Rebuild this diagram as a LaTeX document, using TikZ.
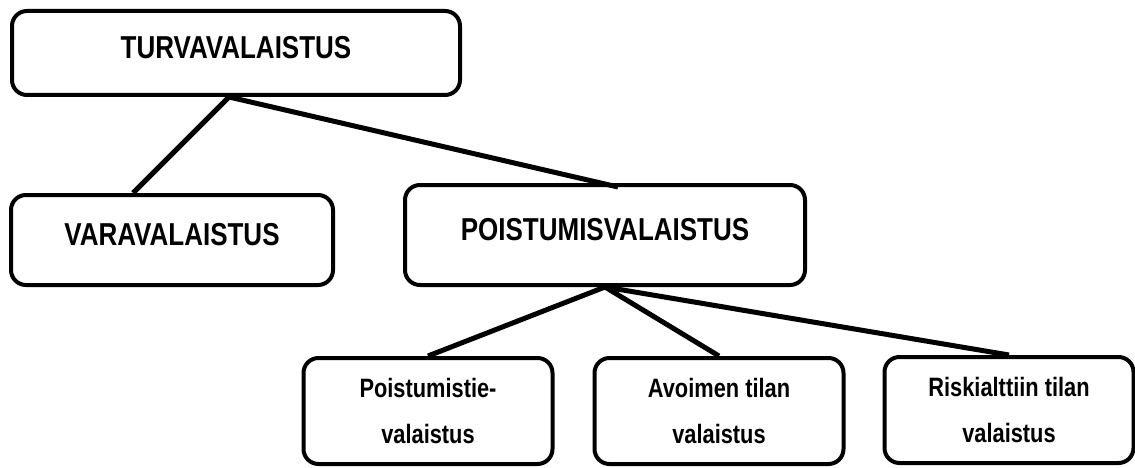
\documentclass[tikz,border=0pt]{standalone}
\usepackage{fontspec}
\setmainfont{Liberation Sans}[FakeStretch=0.82]

\begin{document}
\begin{tikzpicture}[x=1pt,y=-1pt,line width=5pt]
\tikzstyle{bigbox}=[draw, rectangle, rounded corners=15pt, line width=4pt, fill=white, inner sep=0pt, text depth=12pt, font=\bfseries\fontsize{31.7}{38}\selectfont]
\tikzstyle{leafbox}=[draw, rectangle, rounded corners=15pt, line width=4pt, fill=white, inner sep=0pt, minimum width=249pt, minimum height=106pt, align=center, font=\bfseries\fontsize{26.6}{46}\selectfont]

\useasboundingbox (0,0) rectangle (1135,468);

\node[bigbox, minimum width=448pt, minimum height=84pt] (turva) at (236,53) {TURVAVALAISTUS};
\node[bigbox, minimum width=322pt, minimum height=90pt] (vara) at (172,240) {VARAVALAISTUS};
\node[bigbox, minimum width=400pt, minimum height=100pt] (pois) at (605,235) {POISTUMISVALAISTUS};
\node[leafbox] (poistie) at (428,411) {Poistumistie-\\valaistus};
\node[leafbox] (avoin) at (719,411) {Avoimen tilan\\valaistus};
\node[leafbox] (riski) at (1009,410) {Riskialttiin tilan\\valaistus};

\draw ([xshift=-7pt]turva.south) -- ([xshift=-39pt]vara.north);
\draw ([xshift=-7pt]turva.south) -- ([xshift=13pt,yshift=-4pt]pois.north);
\draw (pois.south) -- (poistie.north);
\draw (pois.south) -- (avoin.north);
\draw (pois.south) -- (riski.north);
\end{tikzpicture}
\end{document}
